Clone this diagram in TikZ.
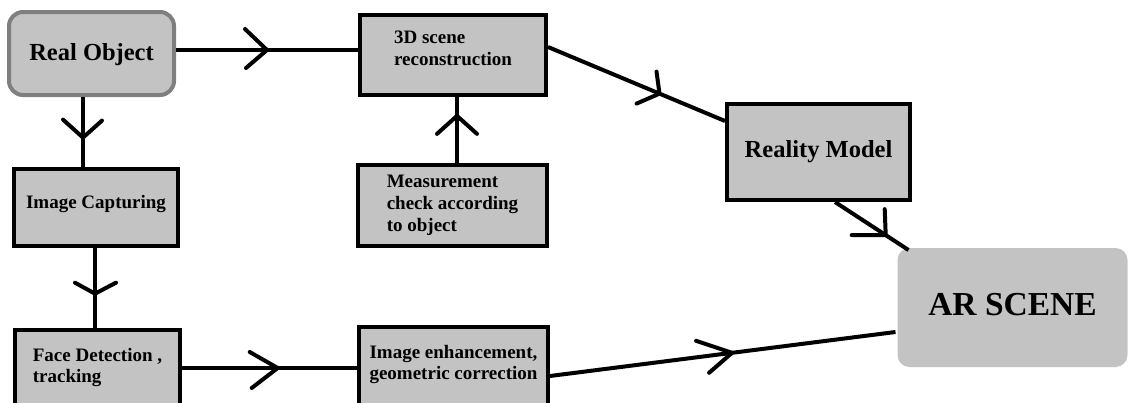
\documentclass[tikz,border=0pt]{standalone}
\usepackage{fontspec}
\setmainfont{Liberation Serif}
\definecolor{boxgray}{RGB}{195,195,195}
\definecolor{rimgray}{RGB}{127,127,127}
\begin{document}
\begin{tikzpicture}[x=1pt,y=-1pt,
  box/.style={draw=black, line width=4pt, fill=boxgray, inner sep=0pt, align=left,
    font=\bfseries\fontsize{19}{22}\selectfont},
  bigbox/.style={box, align=center, font=\bfseries\fontsize{24.5}{28}\selectfont},
  conn/.style={draw=black, line width=4pt},
  vhead/.style={draw=black, line width=4pt, line cap=round, line join=miter}]
\useasboundingbox (0,0) rectangle (1128,402);

% boxes
\node[bigbox, draw=rimgray, rounded corners=14pt, minimum width=165pt, minimum height=83pt, text height=19pt] (real) at (91.5,53.5) {Real Object};
\node[box, minimum width=186pt, minimum height=80pt, text depth=12.8pt] (rec) at (453,55) {3D scene\\reconstruction};
\node[box, minimum width=189pt, minimum height=81pt] (meas) at (452.5,205.5) {Measurement\\check according\\to object};
\node[box, minimum width=164pt, minimum height=77pt, text depth=12pt] (cap) at (96,207.5) {Image Capturing};
\node[box, minimum width=165pt, minimum height=80pt, text depth=9pt, font=\bfseries\fontsize{19}{21}\selectfont] (face) at (97.5,370) {Face Detection ,\\tracking};
\node[box, minimum width=189pt, minimum height=82pt, text depth=12pt, font=\bfseries\fontsize{19}{21}\selectfont, align=center] (enh) at (453.5,368) {Image enhancement,\\geometric correction};
\node[bigbox, minimum width=183pt, minimum height=96pt] (rm) at (818.5,152) {Reality Model};
\node[box, draw=none, rounded corners=12pt, minimum width=230pt, minimum height=119pt, text depth=7pt, align=center, font=\bfseries\fontsize{33.5}{38}\selectfont] (ar) at (1012.5,307.5) {AR SCENE};

% connector end points
\coordinate (a1) at ([yshift=3.5pt]real.east);
\coordinate (a2) at ([xshift=-8.5pt]real.south);
\coordinate (a3) at ([xshift=-1pt]cap.south);
\coordinate (a4) at ([yshift=2pt]face.east);
\coordinate (a5) at ([xshift=4.5pt]meas.north);
\coordinate (a6) at ([yshift=8pt]rec.east);
\coordinate (b6) at ([yshift=31pt]rm.west);
\coordinate (a7) at ([xshift=16.5pt]rm.south);
\coordinate (b7) at ([xshift=13pt,yshift=-4pt]ar.north west);
\coordinate (a8) at ([yshift=-8pt]enh.east);
\coordinate (b8) at ([yshift=-24.5pt]ar.west);

% connectors
\draw[conn] (a1) -- coordinate[pos=0.5] (t1) (a1 -| rec.west);
\draw[conn] (a2) -- coordinate[pos=0.58] (t2) (a2 |- cap.north);
\draw[conn] (a3) -- coordinate[pos=0.571] (t3) (a3 |- face.north);
\draw[conn] (a4) -- coordinate[pos=0.547] (t4) (a4 -| enh.west);
\draw[conn] (a5) -- coordinate[pos=0.714] (t5) (a5 |- rec.south);
\draw[conn] (a6) -- coordinate[pos=0.63] (t6) (b6);
\draw[conn] (a7) -- coordinate[pos=0.69] (t7) (b7);
\draw[conn] (a8) -- coordinate[pos=0.527] (t8) (b8);

% open arrowheads
\draw[vhead] ([shift={(-22,-21)}]t1) -- (t1) -- ([shift={(-21,18)}]t1);
\draw[vhead] ([shift={(-20,-18)}]t2) -- (t2) -- ([shift={(19,-17)}]t2);
\draw[vhead] ([shift={(-20,-11)}]t3) -- (t3) -- ([shift={(21,-11)}]t3);
\draw[vhead] ([shift={(-28,-16)}]t4) -- (t4) -- ([shift={(-26,20)}]t4);
\draw[vhead] ([shift={(-20,18)}]t5) -- (t5) -- ([shift={(20,18)}]t5);
\draw[vhead] ([shift={(-3,-22)}]t6) -- (t6) -- ([shift={(-23,10)}]t6);
\draw[vhead] ([shift={(-1,-26)}]t7) -- (t7) -- ([shift={(-34,0)}]t7);
\draw[vhead] ([shift={(-36,-12)}]t8) -- (t8) -- ([shift={(-23,20)}]t8);
\end{tikzpicture}
\end{document}
